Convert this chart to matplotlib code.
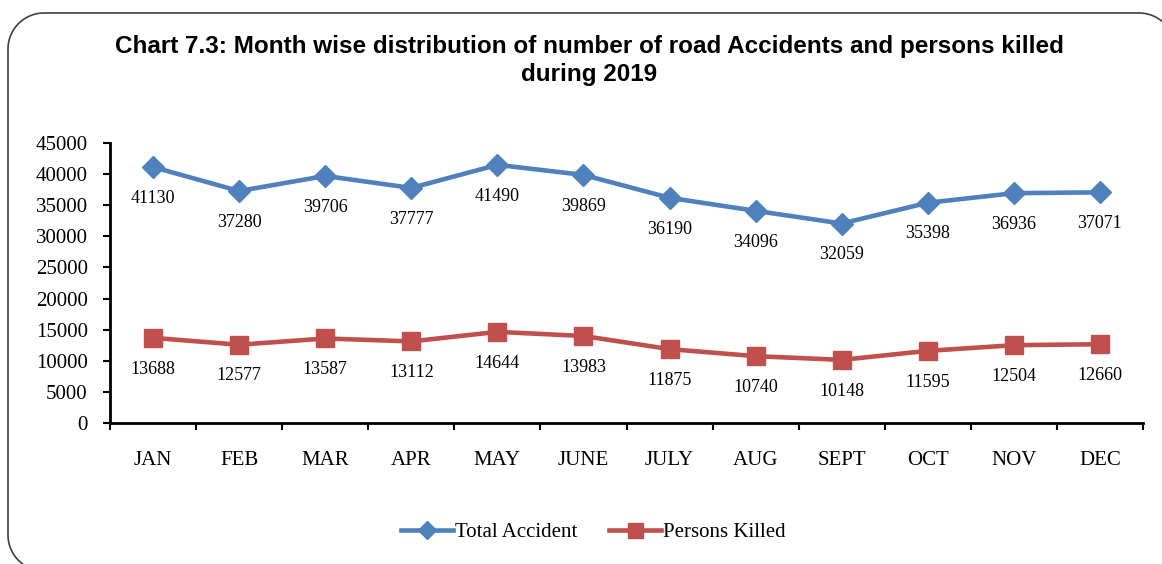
import matplotlib
matplotlib.use("Agg")
import matplotlib.pyplot as plt
import numpy as np
from matplotlib.lines import Line2D

months = ["JAN", "FEB", "MAR", "APR", "MAY", "JUNE", "JULY", "AUG", "SEPT", "OCT", "NOV", "DEC"]
total_accident = [41130, 37280, 39706, 37777, 41490, 39869, 36190, 34096, 32059, 35398, 36936, 37071]
persons_killed = [13688, 12577, 13587, 13112, 14644, 13983, 11875, 10740, 10148, 11595, 12504, 12660]
y_ticks = [0, 5000, 10000, 15000, 20000, 25000, 30000, 35000, 40000, 45000]

plt.rcParams["font.family"] = ["Liberation Serif", "DejaVu Serif"]

W, H = 1162, 564
fig = plt.figure(figsize=(W / 100, H / 100), dpi=100)
ax = fig.add_axes([110 / W, 1 - 423 / H, (1143 - 110) / W, (423 - 143) / H])


def rounded_outline(left, right, bottom, top, r):
    # open outline (pixels, y up), only the part that shows in the picture
    def arc(cx, cy, a0, a1):
        t = np.radians(np.linspace(a0, a1, 30))
        return cx + r * np.cos(t), cy + r * np.sin(t)
    parts = [arc(left + r, bottom + r, 240, 180),
             arc(left + r, top - r, 180, 90),
             arc(right - r, top - r, 90, 42)]
    xs = np.concatenate([p[0] for p in parts])
    ys = np.concatenate([p[1] for p in parts])
    return xs, ys


bx, by = rounded_outline(8, 1175, -7, 551, 36)
fig.add_artist(Line2D(bx / W, by / H, transform=fig.transFigure,
                      color="#404040", lw=1.2))

x = np.arange(len(months)) + 0.5
blue = "#4F81BD"
red = "#C0504D"
ax.plot(x, total_accident, color=blue, lw=3.3, marker="D", ms=11,
        label="Total Accident", clip_on=False)
ax.plot(x, persons_killed, color=red, lw=3.3, marker="s", ms=13.5,
        label="Persons Killed", clip_on=False)

for xi, v in zip(x, total_accident):
    ax.annotate(str(v), (xi, v), xytext=(0, -22.5), textcoords="offset points",
                ha="center", va="center", fontsize=13)
for xi, v in zip(x, persons_killed):
    ax.annotate(str(v), (xi, v), xytext=(0, -22.5), textcoords="offset points",
                ha="center", va="center", fontsize=13)

ax.set_xlim(0, 12)
ax.set_ylim(0, 45000)
ax.set_yticks(y_ticks)
ax.set_yticklabels([str(t) for t in y_ticks], fontsize=15)
ax.set_xticks(np.arange(13))
ax.set_xticklabels([])
ax.set_xticks(x, minor=True)
ax.set_xticklabels(months, minor=True, fontsize=15)
ax.tick_params(axis="x", which="minor", length=0, pad=20)
ax.tick_params(axis="both", which="major", length=5, width=1.5, direction="out")
ax.tick_params(axis="y", pad=11)

for side in ["top", "right"]:
    ax.spines[side].set_visible(False)
for side in ["left", "bottom"]:
    ax.spines[side].set_linewidth(2)

title_font = dict(ha="center", va="center", fontsize=17.5, fontweight="bold",
                  family=["Liberation Sans"])
fig.text(589 / W, 1 - 47 / H,
         "Chart 7.3: Month wise distribution of number of road Accidents and persons killed",
         **title_font)
fig.text(589 / W, 1 - 75 / H, "during 2019", **title_font)

fig.legend(loc="center", bbox_to_anchor=(593 / W, 1 - 532 / H), ncol=2, frameon=False,
           fontsize=15, handlelength=2.5, columnspacing=1.5, handletextpad=0.1,
           markerscale=0.8)

fig.savefig("out.png", dpi=100)
